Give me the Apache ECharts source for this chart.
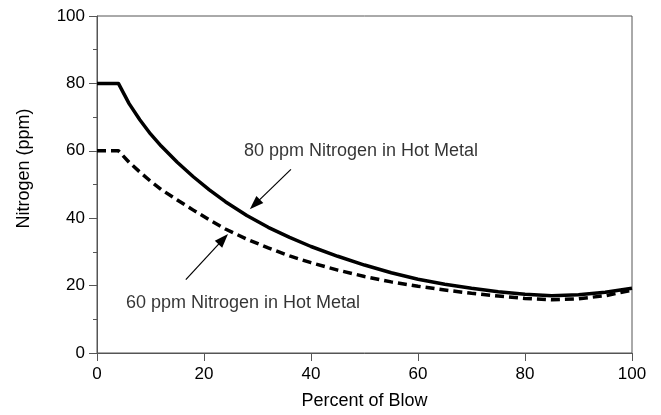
<!DOCTYPE html>
<html>
<head>
<meta charset="utf-8">
<script src="https://cdn.jsdelivr.net/npm/echarts@6/dist/echarts.min.js"></script>
<style>
html,body{margin:0;padding:0;background:#fff;}
#chart{width:661px;height:415px;}
</style>
</head>
<body>
<div id="chart"></div>
<script>
// Percent of blow (x positions of the read points)
var blowPct = [0, 4, 6, 8, 10, 12, 15, 18, 21, 24, 28, 32, 36, 40, 45, 50, 55, 60, 65, 70, 75, 80, 85, 90, 95, 100];
// 80 ppm nitrogen in hot metal (solid)
var n80 = [80, 80, 74, 69.2, 65.0, 61.4, 56.6, 52.3, 48.4, 44.9, 40.8, 37.3, 34.3, 31.6, 28.7, 26.1, 23.8, 21.9, 20.4, 19.2, 18.2, 17.4, 17.0, 17.3, 18.0, 19.2];
// 60 ppm nitrogen in hot metal (dashed)
var n60 = [60, 60, 56.6, 53.7, 51.0, 48.5, 45.4, 42.4, 39.5, 36.8, 33.8, 31.2, 28.8, 26.8, 24.6, 22.7, 21.1, 19.8, 18.7, 17.7, 16.9, 16.2, 15.8, 16.1, 17.0, 18.6];

var xTicks = [0, 20, 40, 60, 80, 100];
var yTicks = [0, 20, 40, 60, 80, 100];

// annotation texts and their anchor points (data units)
var labelTexts = ['80 ppm Nitrogen in Hot Metal', '60 ppm Nitrogen in Hot Metal'];
var labelAnchors = [[49.35, 59.8], [27.3, 14.9]];
// arrows: [start, end (arrow-head centre)] in data units
var arrow80 = [[36.25, 54.5], [29.5, 44.1]];
var arrow60 = [[16.6, 21.8], [23.6, 33.8]];

function pairs(xs, ys) { return xs.map(function (x, i) { return [x, ys[i]]; }); }

var font = '"Liberation Sans", Arial, Helvetica, sans-serif';
var chart = echarts.init(document.getElementById('chart'), null, {renderer: 'canvas'});
var option = {
  animation: false,
  backgroundColor: '#ffffff',
  grid: {left: 97, right: 29, top: 16, bottom: 61, show: true, borderColor: '#555', borderWidth: 1},
  xAxis: {
    type: 'value', min: 0, max: 100, interval: 20,
    name: 'Percent of Blow', nameLocation: 'middle', nameGap: 39,
    nameTextStyle: {color: '#000', fontSize: 18, fontFamily: font},
    axisLine: {show: true, lineStyle: {color: '#555', width: 1}},
    axisTick: {show: true, length: 8, lineStyle: {color: '#555'}},
    axisLabel: {color: '#000', fontSize: 17, fontFamily: font, margin: 13,
      formatter: function (v) { return xTicks.indexOf(v) >= 0 ? String(v) : ''; }},
    splitLine: {show: false}
  },
  yAxis: {
    type: 'value', min: 0, max: 100, interval: 20,
    name: 'Nitrogen (ppm)', nameLocation: 'middle', nameGap: 64, nameRotate: 90,
    nameTextStyle: {color: '#000', fontSize: 18, fontFamily: font, padding: [0, 0, 0, 32]},
    axisLine: {show: true, lineStyle: {color: '#555', width: 1}},
    axisTick: {show: true, length: 8, lineStyle: {color: '#555'}},
    minorTick: {show: true, splitNumber: 2, length: 4, lineStyle: {color: '#555'}},
    axisLabel: {color: '#000', fontSize: 17, fontFamily: font, margin: 12,
      formatter: function (v) { return yTicks.indexOf(v) >= 0 ? String(v) : ''; }},
    splitLine: {show: false}
  },
  series: [
    {
      type: 'line', data: pairs(blowPct, n80), showSymbol: false, symbol: 'none',
      smooth: false,
      lineStyle: {color: '#000', width: 3.5, join: 'round'},
      markLine: {
        silent: true, symbol: ['none', 'triangle'], symbolSize: [10, 14],
        label: {show: false},
        lineStyle: {color: '#000', width: 1.2, type: 'solid'},
        data: [
          [{coord: arrow80[0]}, {coord: arrow80[1]}],
          [{coord: arrow60[0]}, {coord: arrow60[1]}]
        ]
      }
    },
    {
      type: 'line', data: pairs(blowPct, n60), showSymbol: false, symbol: 'none',
      smooth: false,
      lineStyle: {color: '#000', width: 3.5, type: [9, 5], join: 'round'}
    },
    {
      type: 'scatter', symbolSize: 0, silent: true,
      data: labelAnchors.map(function (p, i) { return [p[0], p[1], labelTexts[i]]; }),
      label: {show: true, position: 'inside', color: '#000', fontSize: 18, fontFamily: font,
        formatter: function (p) { return p.data[2]; }}
    }
  ]
};
chart.setOption(option);
</script>
</body>
</html>
